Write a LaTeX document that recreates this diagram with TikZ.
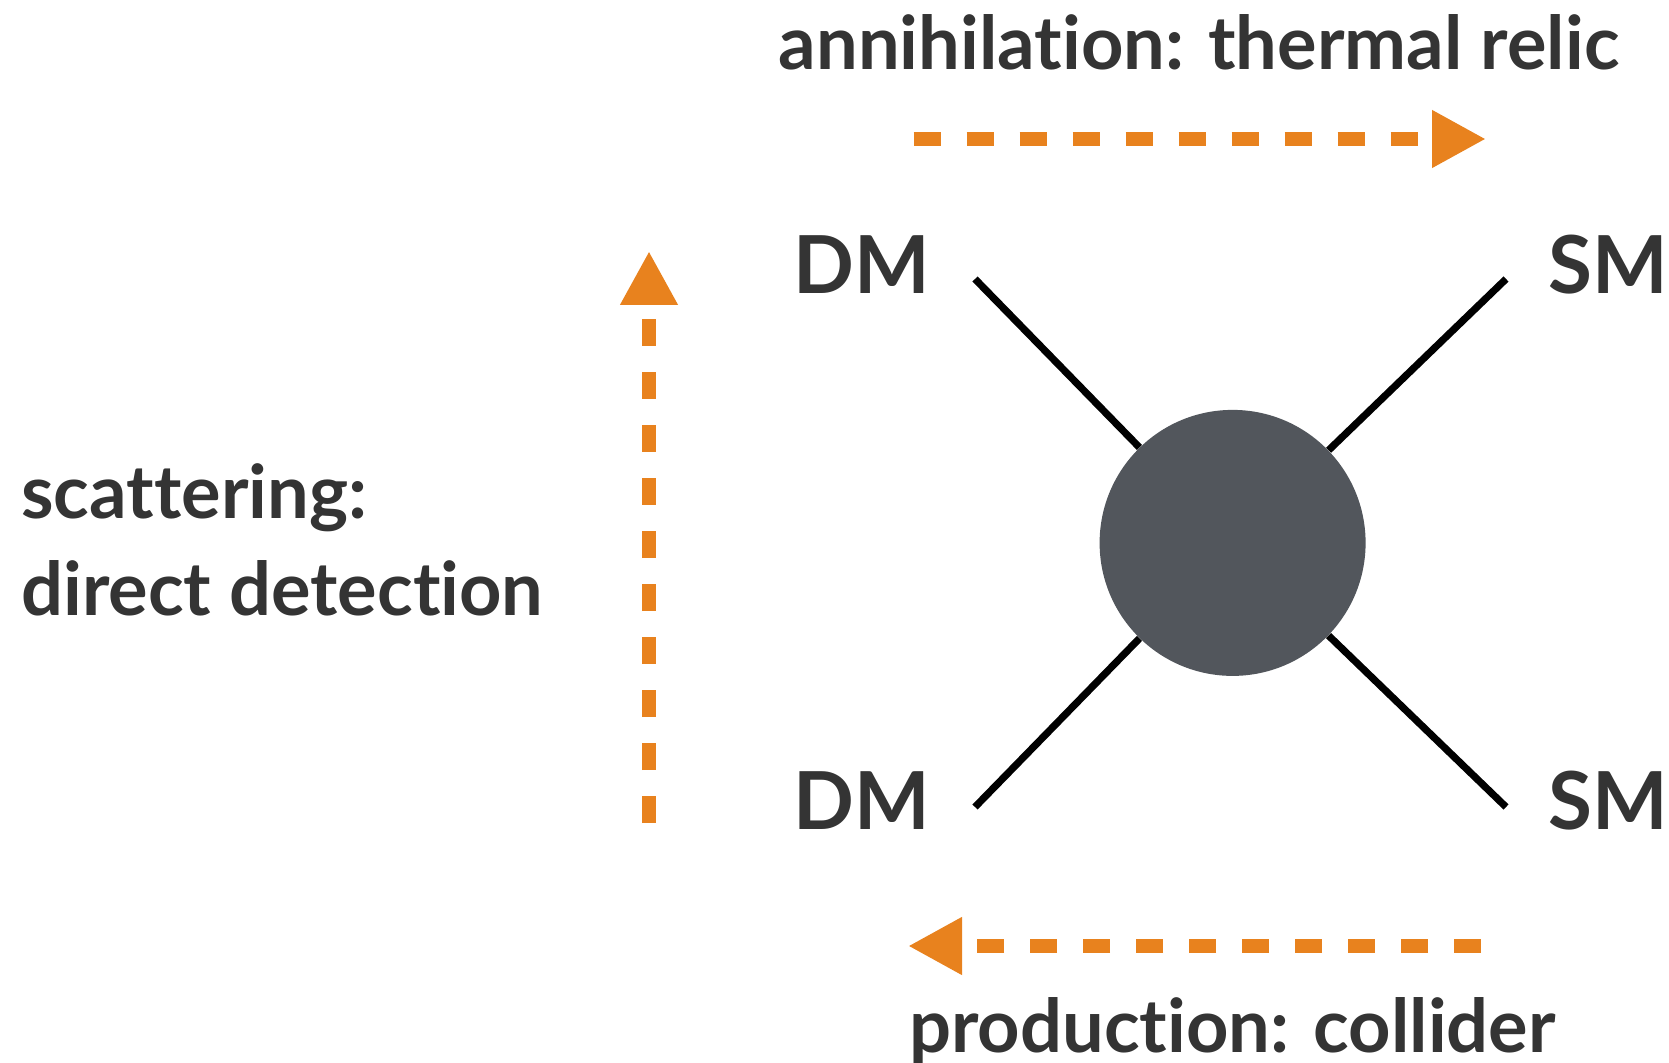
\documentclass[tikz,border=0pt]{standalone}
\usepackage{fontspec}
\setmainfont{Lato}[Ligatures=NoCommon]
\usetikzlibrary{arrows.meta}

\definecolor{relicorange}{RGB}{232,130,30}
\definecolor{blobgrey}{RGB}{82,86,92}
\definecolor{labelgrey}{RGB}{52,52,52}

\tikzset{
  proc/.style={relicorange, line width=7pt, dash pattern=on 13.5pt off 13pt,
    -{Triangle[length=27pt,width=27pt]}},
  leg/.style={line width=3.6pt},
  blob/.style={circle, fill=blobgrey, minimum size=133pt, inner sep=0pt},
  lbl/.style={labelgrey, inner sep=0pt, font=\fontsize{37}{45}\selectfont\bfseries},
  particle/.style={lbl, font=\fontsize{40}{48}\selectfont\bfseries},
}

\begin{document}
\begin{tikzpicture}[x=0.5pt, y=-0.5pt]
  \useasboundingbox (0,0) rectangle (1669,1063);

  % vertex and the four legs
  \node[blob] (blob) at (1232.6,542.9) {};
  \coordinate (dmA) at (975,279);
  \coordinate (dmB) at (975,807);
  \coordinate (smA) at (1506,279);
  \coordinate (smB) at (1506,807);
  \foreach \p in {dmA,dmB,smA,smB}
    \draw[leg] (\p) -- (blob);

  \node[particle, anchor=base] (dmtop) at (862,294) {DM};
  \node[particle, anchor=base] (dmbot) at (862,829) {DM};
  \node[particle, anchor=base] (smtop) at (1608,294) {SM};
  \node[particle, anchor=base] (smbot) at (1608,829) {SM};

  % process directions
  \coordinate (annS) at (913.6,139);
  \coordinate (annE) at (1486,139);
  \draw[proc] (annS) -- (annE);
  \coordinate (prodS) at (1481,946);
  \coordinate (prodE) at (908,946);
  \draw[proc] (prodS) -- (prodE);
  \coordinate (scatS) at (649,823);
  \coordinate (scatE) at (649,251);
  \draw[proc] (scatS) -- (scatE);

  \node[lbl, anchor=base] (ann) at (1199,70) {annihilation: thermal relic};
  \node[lbl, anchor=base west] (scat1) at (21,518) {scattering:};
  \node[lbl, anchor=base west] (scat2) at (21,615) {direct detection};
  \node[lbl, anchor=base] (prod) at (1232.5,1052) {production: collider};
\end{tikzpicture}
\end{document}
